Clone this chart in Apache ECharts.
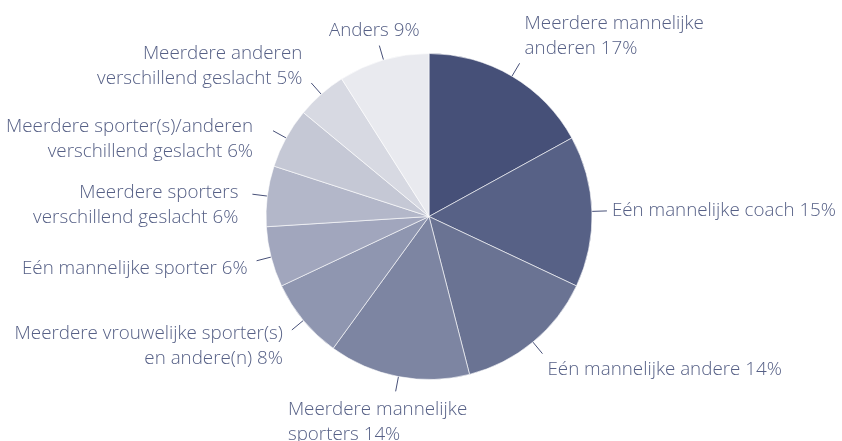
<!DOCTYPE html>
<html>
<head>
<meta charset="utf-8">
<script src="https://cdn.jsdelivr.net/npm/echarts@6/dist/echarts.min.js"></script>
<style>
html,body{margin:0;padding:0;background:#fff;}
#chart{width:842px;height:441px;}
</style>
</head>
<body>
<div id="chart"></div>
<script>
const categories = [
  'Meerdere mannelijke\nanderen',
  'Eén mannelijke coach',
  'Eén mannelijke andere',
  'Meerdere mannelijke\nsporters',
  'Meerdere vrouwelijke sporter(s)\nen andere(n)',
  'Eén mannelijke sporter',
  'Meerdere sporters\nverschillend geslacht',
  'Meerdere sporter(s)/anderen\nverschillend geslacht',
  'Meerdere anderen\nverschillend geslacht',
  'Anders'
];
const values = [17, 15, 14, 14, 8, 6, 6, 6, 5, 9];
const colors = ['#465078', '#576186', '#6a7393', '#7d85a2', '#8f96b0',
                '#a1a6bd', '#b3b7c9', '#c5c8d5', '#d7d9e2', '#e9eaef'];

// label placement tweaks (pixels), layout only
const labelNudgeX = [0, 0, 0, -7, 0, 0, -5, -11, 0, 4];
const labelNudgeY = [1, 0, 0, 3, -7, 3, 16, 26, 10, 1];

const CX = 429, CY = 216.5, R = 163;
const total = values.reduce((a, b) => a + b, 0);
const midAngles = [];
{
  let acc = 0;
  values.forEach(v => { midAngles.push((acc + v / 2) / total * 2 * Math.PI); acc += v; });
}
function clamp(v) { return Math.max(-1, Math.min(1, v)); }

const chart = echarts.init(document.getElementById('chart'), null, {renderer: 'canvas'});
chart.setOption({
  animation: false,
  series: [{
    type: 'pie',
    center: [CX, CY],
    radius: R,
    startAngle: 90,
    clockwise: true,
    avoidLabelOverlap: false,
    data: categories.map((c, i) => ({name: c, value: values[i], itemStyle: {color: colors[i]}})),
    itemStyle: {borderColor: '#ffffff', borderWidth: 0.6},
    label: {
      show: true,
      position: 'outside',
      formatter: '{b} {c}%',
      fontFamily: 'Open Sans',
      fontWeight: 300,
      fontSize: 18.8,
      lineHeight: 25,
      color: '#566086'
    },
    labelLine: {
      show: true,
      length: 15,
      length2: 0,
      lineStyle: {color: '#475078', width: 1}
    },
    emphasis: {disabled: true},
    labelLayout: function (params) {
      const i = params.dataIndex;
      const a = midAngles[i];
      const dx = Math.sin(a), dy = -Math.cos(a);
      const pts = params.labelLinePoints;
      const end = pts[pts.length - 1];
      const w = params.labelRect.width, h = params.labelRect.height;
      const fx = Math.abs(dx) < 0.45 ? dx * 0.6 : Math.sign(dx);
      const fy = clamp(dy * 1.3);
      const gx = fx < 0 ? 9 : 5;
      const cxl = end[0] + fx * (w / 2 + gx) + labelNudgeX[i];
      const cyl = end[1] + fy * (h / 2 + 3) + labelNudgeY[i];
      const align = fx > -0.5 ? 'left' : 'right';
      return {
        x: align === 'left' ? cxl - w / 2 : cxl + w / 2,
        y: cyl,
        align: align,
        verticalAlign: 'middle',
        labelLinePoints: pts
      };
    }
  }]
});
</script>
</body>
</html>
